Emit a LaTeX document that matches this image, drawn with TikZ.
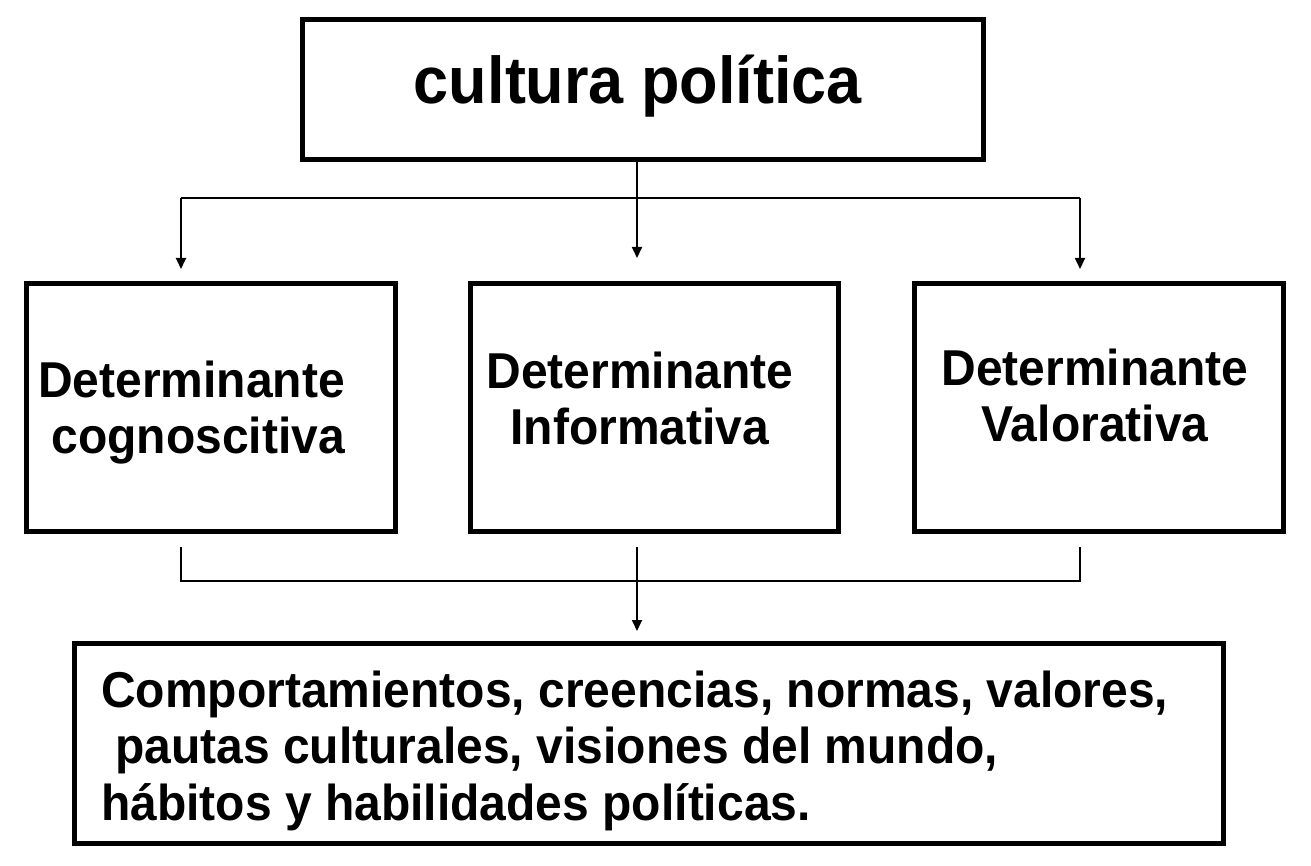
\documentclass[tikz,border=0pt]{standalone}
\usepackage{fontspec}
\usepackage{graphicx}
\setmainfont{Liberation Sans}
\usetikzlibrary{arrows.meta}
\newcommand{\tallbox}[1]{\scalebox{1}[1.05]{#1}}
\begin{document}
\begin{tikzpicture}[x=1pt,y=-1pt,
  box/.style={draw=black,line width=5pt,rectangle,inner sep=0pt,fill=white},
  conn/.style={draw=black,line width=1.8pt},
  arr/.style={conn,-{Triangle[width=10pt,length=11pt]}},
  lbl/.style={inner sep=0pt,font=\fontsize{48}{54}\selectfont\bfseries}]
\useasboundingbox[fill=white] (0,0) rectangle (1311,866);
% boxes
\node[box,minimum width=681pt,minimum height=140pt] (top) at (643,89.5) {};
\node[box,minimum width=369pt,minimum height=248pt] (cog) at (211,407.5) {};
\node[box,minimum width=368pt,minimum height=248pt] (inf) at (654.5,407.5) {};
\node[box,minimum width=369pt,minimum height=248pt] (val) at (1099,407.5) {};
\node[box,minimum width=1149pt,minimum height=200pt] (res) at (649,743.5) {};
% texts
\node[inner sep=0pt,anchor=base,font=\fontsize{63}{70}\selectfont\bfseries] (ttop) at (638,104) {\tallbox{cultura política}};
\node[lbl,anchor=base east] (tcog) at (345,397) {\tallbox{\begin{tabular}[t]{@{}r@{}}Determinante\\cognoscitiva\end{tabular}}};
\node[lbl,anchor=base] (tinf) at (640,388) {\tallbox{\begin{tabular}[t]{@{}c@{}}Determinante\\Informativa\end{tabular}}};
\node[lbl,anchor=base] (tval) at (1095,385) {\tallbox{\begin{tabular}[t]{@{}c@{}}Determinante\\Valorativa\end{tabular}}};
\node[lbl,anchor=base west] (tres) at (101,707) {\tallbox{\begin{tabular}[t]{@{}l@{}}Comportamientos, creencias, normas, valores,\\\hspace*{14pt}pautas culturales, visiones del mundo,\\hábitos y habilidades políticas.\end{tabular}}};
% connector points
\coordinate (h1) at (181,198);
\coordinate (h2) at (637,198);
\coordinate (h3) at (1080,198);
\coordinate (t1) at (181,269);
\coordinate (t2) at (637,258);
\coordinate (t3) at (1080,269);
\coordinate (b1) at (181,547);
\coordinate (b2) at (637,547);
\coordinate (b3) at (1080,547);
\coordinate (j1) at (181,581);
\coordinate (j2) at (637,581);
\coordinate (j3) at (1080,581);
\coordinate (t4) at (637,631);
% top connectors
\draw[conn] (h1) -- (h3);
\draw[arr] (top.south -| h2) -- (t2);
\draw[arr] (h1) -- (t1);
\draw[arr] (h3) -- (t3);
% bottom connectors
\draw[conn] (b1) -- (j1) -- (j3) -- (b3);
\draw[arr] (b2) -- (t4);
\end{tikzpicture}
\end{document}
